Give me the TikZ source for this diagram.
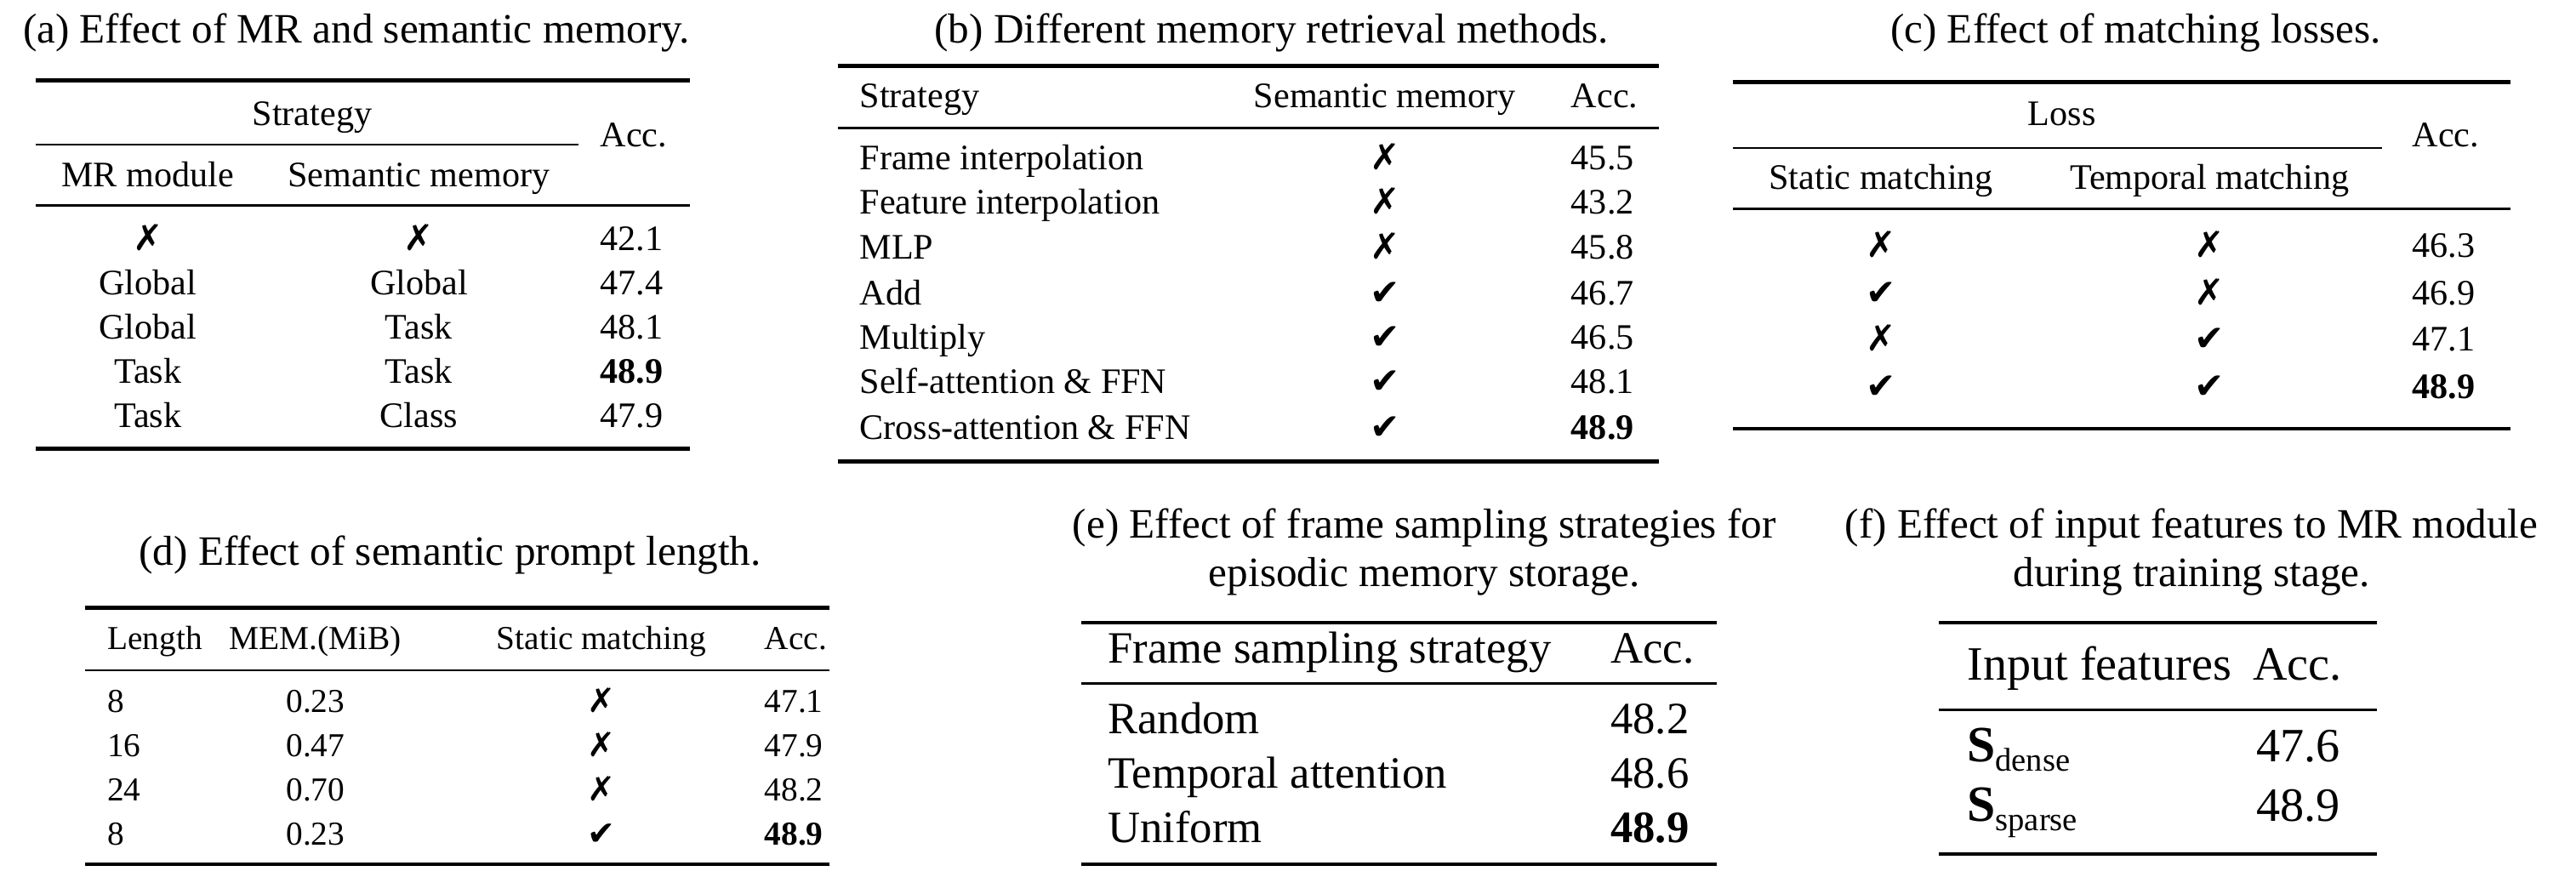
\documentclass[tikz,border=0pt]{standalone}
\usepackage{fontspec}
\setmainfont{Liberation Serif}
\newfontfamily\symf{DejaVu Sans}
\newcommand{\xmk}{{\symf\char"2717}}
\newcommand{\cmk}{{\symf\char"2714}}
\newcommand{\bS}[1]{{\fontsize{17}{18}\selectfont\textbf{S}}\raisebox{-0.45ex}{\fontsize{11}{12}\selectfont #1}}
\tikzset{
  caption/.style={font=\fontsize{14}{16}\selectfont, align=center},
  cell/.style={font=\fontsize{12}{14}\selectfont, inner sep=0pt, text height=8.5pt, text depth=2.5pt},
  small/.style={cell, font=\fontsize{11.2}{13}\selectfont},
  big/.style={font=\fontsize{15}{18}\selectfont, inner sep=0pt, text height=10.5pt, text depth=3pt},
  lft/.style={anchor=west},
  toprule/.style={line width=1.3pt},
  midrule/.style={line width=0.7pt}
}
\begin{document}
\begin{tikzpicture}[x=0.01931cm, y=-0.01931cm]
  \useasboundingbox (0,0) rectangle (1568,544);
  % (a)
  \node[caption] (capa) at (217,20) {(a) Effect of MR and semantic memory.};
  \draw[toprule] (22,49) -- (420,49);
  \node[cell] (strat) at (190,71) {Strategy};
  \node[cell,lft] (acca) at (365,84) {Acc.};
  \draw[midrule] (22,88) -- (352,88);
  \node[cell] (mr) at (90,108) {MR module};
  \node[cell] (sm) at (255,108) {Semantic memory};
  \draw[midrule] (22,125) -- (420,125);
  \foreach \y/\a/\b/\c in {147/\xmk/\xmk/42.1, 174/Global/Global/47.4, 201/Global/Task/48.1,
      228/Task/Task/\textbf{48.9}, 255/Task/Class/47.9}{
    \node[cell] at (90,\y) {\a};
    \node[cell] at (255,\y) {\b};
    \node[cell,lft] at (365,\y) {\c};
  }
  \draw[toprule] (22,273) -- (420,273);
  % (b)
  \node[caption] (capb) at (774,20) {(b) Different memory retrieval methods.};
  \draw[toprule] (510,40) -- (1010,40);
  \node[cell,lft] (stratb) at (523,60) {Strategy};
  \node[cell] (smb) at (843,60) {Semantic memory};
  \node[cell,lft] (accb) at (956,60) {Acc.};
  \draw[midrule] (510,78) -- (1010,78);
  \foreach \y/\a/\b/\c in {98/Frame interpolation/\xmk/45.5, 125/Feature interpolation/\xmk/43.2,
      152/MLP/\xmk/45.8, 180/Add/\cmk/46.7, 207/Multiply/\cmk/46.5,
      234/Self-attention \& FFN/\cmk/48.1, 262/Cross-attention \& FFN/\cmk/\textbf{48.9}}{
    \node[cell,lft] at (523,\y) {\a};
    \node[cell] at (843,\y) {\b};
    \node[cell,lft] at (956,\y) {\c};
  }
  \draw[toprule] (510,281) -- (1010,281);
  % (c)
  \node[caption] (capc) at (1300,20) {(c) Effect of matching losses.};
  \draw[toprule] (1055,50) -- (1528,50);
  \node[cell] (loss) at (1255,71) {Loss};
  \node[cell,lft] (accc) at (1468,84) {Acc.};
  \draw[midrule] (1055,90) -- (1450,90);
  \node[cell] (stm) at (1145,110) {Static matching};
  \node[cell] (tm) at (1345,110) {Temporal matching};
  \draw[midrule] (1055,127) -- (1528,127);
  \foreach \y/\a/\b/\c in {151/\xmk/\xmk/46.3, 180/\cmk/\xmk/46.9, 208/\xmk/\cmk/47.1, 237/\cmk/\cmk/\textbf{48.9}}{
    \node[cell] at (1145,\y) {\a};
    \node[cell] at (1345,\y) {\b};
    \node[cell,lft] at (1468,\y) {\c};
  }
  \draw[toprule] (1055,261) -- (1528,261);
  % (d)
  \node[caption] (capd) at (274,338) {(d) Effect of semantic prompt length.};
  \draw[toprule] (52,370) -- (505,370);
  \node[small,lft] (len) at (65,390) {Length};
  \node[small] (mem) at (192,390) {MEM.(MiB)};
  \node[small] (stmd) at (366,390) {Static matching};
  \node[small,lft] (accd) at (465,390) {Acc.};
  \draw[midrule] (52,408) -- (505,408);
  \foreach \y/\a/\b/\c/\d in {428/8/0.23/\xmk/47.1, 455/16/0.47/\xmk/47.9,
      482/24/0.70/\xmk/48.2, 509/8/0.23/\cmk/\textbf{48.9}}{
    \node[small,lft] at (65,\y) {\a};
    \node[small] at (192,\y) {\b};
    \node[small] at (366,\y) {\c};
    \node[small,lft] at (465,\y) {\d};
  }
  \draw[toprule] (52,526) -- (505,526);
  % (e)
  \node[caption] (cape) at (867,336) {(e) Effect of frame sampling strategies for\\episodic memory storage.};
  \draw[toprule] (658,379) -- (1045,379);
  \node[big,lft] (fss) at (674,397) {Frame sampling strategy};
  \node[big,lft] (acce) at (980,397) {Acc.};
  \draw[midrule] (658,416) -- (1045,416);
  \foreach \y/\a/\b in {440/Random/48.2, 473/Temporal attention/48.6, 506/Uniform/\textbf{48.9}}{
    \node[big,lft] at (674,\y) {\a};
    \node[big,lft] at (980,\y) {\b};
  }
  \draw[toprule] (658,526) -- (1045,526);
  % (f)
  \node[caption] (capf) at (1334,336) {(f) Effect of input features to MR module\\during training stage.};
  \draw[toprule] (1180,379) -- (1447,379);
  \node[big,lft,font=\fontsize{16}{18}\selectfont] (inf) at (1197,407) {Input features};
  \node[big,lft,font=\fontsize{16}{18}\selectfont] (accf) at (1371,407) {Acc.};
  \draw[midrule] (1180,432) -- (1447,432);
  \node[big,lft] (sd) at (1197,457) {\bS{dense}};
  \node[big,lft,font=\fontsize{16}{18}\selectfont] (sda) at (1373,457) {47.6};
  \node[big,lft] (ss) at (1197,493) {\bS{sparse}};
  \node[big,lft,font=\fontsize{16}{18}\selectfont] (ssa) at (1373,493) {48.9};
  \draw[toprule] (1180,520) -- (1447,520);
\end{tikzpicture}
\end{document}
